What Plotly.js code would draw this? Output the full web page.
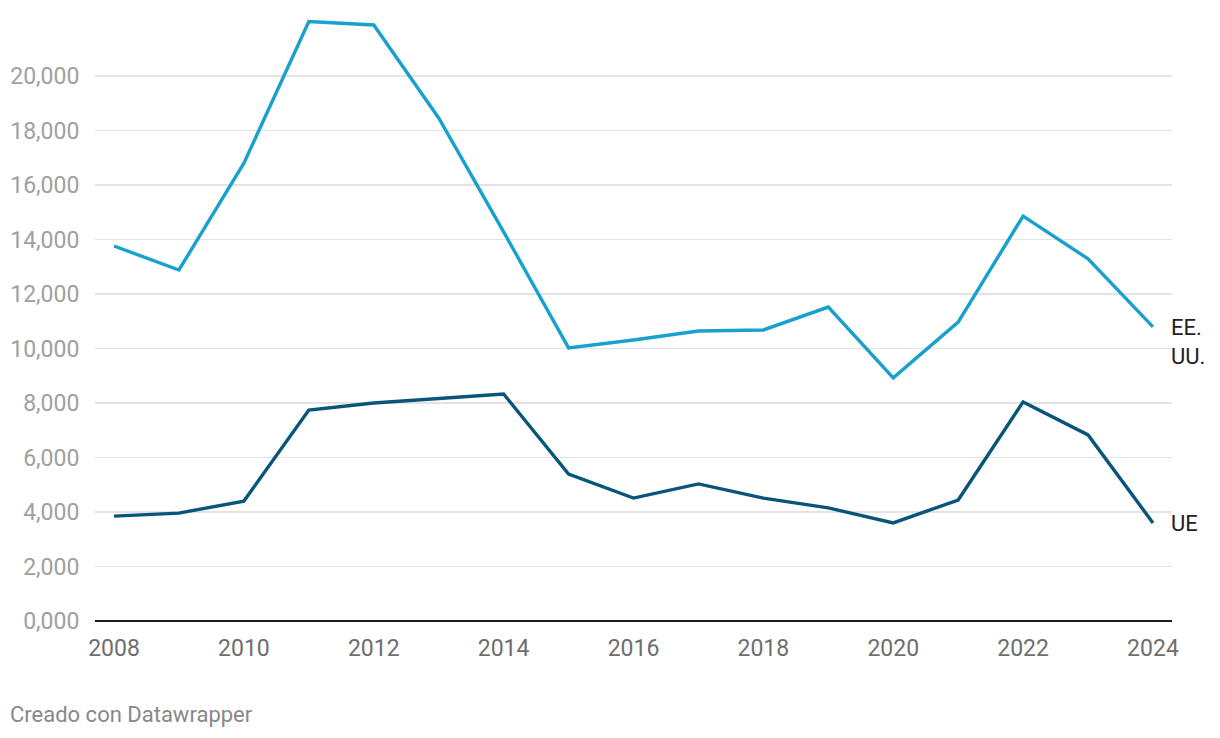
<!DOCTYPE html>
<html><head><meta charset="utf-8">
<script src="https://cdn.plot.ly/plotly-3.0.1.min.js"></script>
<style>html,body{margin:0;padding:0;background:#fff;}#chart{width:1220px;height:738px;}</style>
</head><body><div id="chart"></div>
<script>
const years = [2008,2009,2010,2011,2012,2013,2014,2015,2016,2017,2018,2019,2020,2021,2022,2023,2024];
const eeuu = [13760,12880,16800,22000,21870,18460,14280,10020,10310,10640,10680,11520,8920,10970,14860,13290,10790];
const ue = [3850,3960,4400,7740,8000,8180,8330,5390,4510,5030,4510,4150,3600,4440,8040,6830,3600];
const yTickVals = [0,2000,4000,6000,8000,10000,12000,14000,16000,18000,20000];
const yTickText = ['0,000','2,000','4,000','6,000','8,000','10,000','12,000','14,000','16,000','18,000','20,000'];
const xTickVals = [2008,2010,2012,2014,2016,2018,2020,2022,2024];
const labelEEUU = 'EE.<br>UU.';
const labelUE = 'UE';
const last = years.length - 1;

const traces = [
  {x: years, y: eeuu, type:'scatter', mode:'lines', line:{color:'#18a1cd', width:3.4}, hoverinfo:'skip'},
  {x: years, y: ue, type:'scatter', mode:'lines', line:{color:'#09547a', width:3.4}, hoverinfo:'skip'}
];
const layout = {
  width:1220, height:738,
  margin:{l:95, r:48, t:10, b:116.5, pad:0},
  paper_bgcolor:'#fff', plot_bgcolor:'#fff',
  showlegend:false,
  font:{family:'Roboto, sans-serif'},
  xaxis:{range:[2007.707,2024.293], tickvals:xTickVals, ticktext:xTickVals.map(String),
    showgrid:false, zeroline:false, showline:false,
    ticks:'outside', ticklen:6, tickcolor:'rgba(0,0,0,0)',
    tickfont:{size:23, color:'#6e6e6e', family:'Roboto, sans-serif'}},
  yaxis:{range:[0,22420], tickvals:yTickVals, ticktext:yTickText,
    showgrid:true, gridcolor:'#e3e3e3', gridwidth:1.5,
    zeroline:true, zerolinecolor:'#1a1a1a', zerolinewidth:2.2,
    ticks:'outside', ticklen:10, tickcolor:'rgba(0,0,0,0)',
    tickfont:{size:23, color:'#a0a0a0', family:'Roboto, sans-serif'}},
  annotations:[
    {x: years[last], y: eeuu[last], xref:'x', yref:'y', text:labelEEUU, showarrow:false,
      xanchor:'left', yanchor:'middle', xshift:16, yshift:-15, align:'left',
      font:{size:22, color:'#222', family:'Roboto, sans-serif'}},
    {x: years[last], y: ue[last], xref:'x', yref:'y', text:labelUE, showarrow:false,
      xanchor:'left', yanchor:'middle', xshift:16, yshift:-1, align:'left',
      font:{size:22, color:'#222', family:'Roboto, sans-serif'}},
    {x:0, y:0, xref:'paper', yref:'paper', xanchor:'left', yanchor:'middle',
      text:'Creado con Datawrapper', showarrow:false, xshift:-87, yshift:-93,
      font:{size:22, color:'#888', family:'Roboto, sans-serif'}}
  ]
};
Plotly.newPlot('chart', traces, layout, {displayModeBar:false, staticPlot:true});
</script></body></html>
